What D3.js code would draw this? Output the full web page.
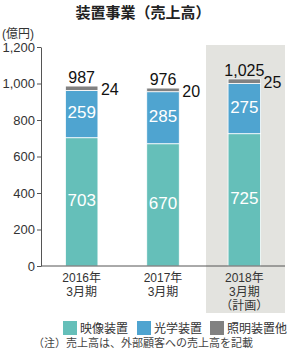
<!DOCTYPE html>
<meta charset="utf-8">
<style>
body { margin: 0; background: #fff; }
text { font-family: "Liberation Sans", Arial, "Noto Sans CJK JP", sans-serif; }
.jp { font-family: "Noto Sans CJK JP", sans-serif; }
</style>
<svg width="287" height="360"></svg>
<script src="https://d3js.org/d3.v7.min.js"></script>
<script>

// data
var years = ["2016年", "2017年", "2018年"];
var subLabels = ["3月期", "3月期", "3月期"];
var planLabel = ["", "", "（計画）"];
var seriesNames = ["映像装置", "光学装置", "照明装置他"];
var eizou = [703, 670, 725];
var kogaku = [259, 285, 275];
var shoumei = [24, 20, 25];
var totals = [987, 976, 1025];
var yTicks = [0, 200, 400, 600, 800, 1000, 1200];

var colors = ["#65bfb9", "#4fa4d0", "#818181"];

var svg = d3.select("svg");

var x = d3.scaleBand().domain(years).range([41, 285]).paddingInner(0.6).paddingOuter(0.3);
var y = d3.scaleLinear().domain([0, 1200]).range([266, 47]);

// plan year background
svg.append("rect")
  .attr("x", 206).attr("y", 45)
  .attr("width", 79).attr("height", 268)
  .attr("fill", "#e3e3df");

// title
svg.append("text").attr("class", "jp")
  .attr("x", 143).attr("y", 18)
  .attr("text-anchor", "middle")
  .attr("font-size", 15).attr("font-weight", "bold")
  .attr("fill", "#222")
  .text("装置事業（売上高）");

svg.append("text")
  .attr("x", 2).attr("y", 38)
  .attr("font-size", 12).attr("fill", "#333")
  .text("(億円)");

// stacked data
var rows = years.map(function(d, i) {
  return { year: d, v: [eizou[i], kogaku[i], shoumei[i]] };
});
var stack = d3.stack().keys([0, 1, 2]).value(function(d, k) { return d.v[k]; });
var layers = stack(rows);

var g = svg.append("g");
layers.forEach(function(layer, k) {
  g.selectAll(".s" + k).data(layer).enter().append("rect")
    .attr("x", function(d) { return x(d.data.year); })
    .attr("width", x.bandwidth())
    .attr("y", function(d) { return y(d[1]); })
    .attr("height", function(d) { return y(d[0]) - y(d[1]); })
    .attr("fill", colors[k])
    .attr("stroke", "#fff").attr("stroke-width", 0.8);
});

// labels inside bars
[0, 1].forEach(function(k) {
  g.selectAll(".l" + k).data(layers[k]).enter().append("text")
    .attr("x", function(d) { return x(d.data.year) + x.bandwidth() / 2; })
    .attr("y", function(d) { return (y(d[0]) + y(d[1])) / 2 + 4; })
    .attr("text-anchor", "middle")
    .attr("font-size", 17).attr("fill", "#fff")
    .text(function(d) { return d.data.v[k]; });
});

// totals above
g.selectAll(".tot").data(rows).enter().append("text")
  .attr("x", function(d) { return x(d.year) + x.bandwidth() / 2; })
  .attr("y", function(d, i) { return y(totals[i]) - 3; })
  .attr("text-anchor", "middle")
  .attr("font-size", 16).attr("fill", "#111")
  .text(function(d, i) { return d3.format(",")(totals[i]); });

// lighting values beside bar
g.selectAll(".sh").data(rows).enter().append("text")
  .attr("x", function(d) { return x(d.year) + x.bandwidth() + 3; })
  .attr("y", function(d, i) { return y(totals[i]) + 9; })
  .attr("font-size", 16).attr("fill", "#111")
  .text(function(d, i) { return shoumei[i]; });

// y axis
var yAxis = svg.append("g")
  .attr("transform", "translate(41,0)")
  .call(d3.axisLeft(y).tickValues(yTicks).tickSize(4).tickSizeOuter(0).tickFormat(d3.format(",")));
yAxis.select(".domain").attr("stroke", "#555");
yAxis.selectAll(".tick line").attr("stroke", "#555");
yAxis.selectAll(".tick text").attr("font-size", 13).attr("fill", "#333").attr("x", -6);

// baseline
svg.append("line")
  .attr("x1", 41).attr("x2", 285)
  .attr("y1", y(0)).attr("y2", y(0))
  .attr("stroke", "#555");

// x labels
var xl = svg.append("g").selectAll("g").data(years).enter().append("g")
  .attr("transform", function(d) { return "translate(" + (x(d) + x.bandwidth() / 2) + ",0)"; });
xl.append("text").attr("y", 282).attr("text-anchor", "middle")
  .attr("font-size", 12).attr("fill", "#333").text(function(d) { return d; });
xl.append("text").attr("y", 296).attr("text-anchor", "middle")
  .attr("font-size", 12).attr("fill", "#333").text(function(d, i) { return subLabels[i]; });
xl.append("text").attr("y", 310).attr("text-anchor", "middle")
  .attr("font-size", 12).attr("fill", "#333").text(function(d, i) { return planLabel[i]; });

// legend
var legX = [63, 137, 210];
var leg = svg.append("g").selectAll("g").data(seriesNames).enter().append("g")
  .attr("transform", function(d, i) { return "translate(" + legX[i] + ",321)"; });
leg.append("rect").attr("width", 14).attr("height", 14)
  .attr("fill", function(d, i) { return colors[i]; });
leg.append("text").attr("x", 17).attr("y", 12)
  .attr("font-size", 12).attr("fill", "#333").text(function(d) { return d; });

// note
svg.append("text")
  .attr("x", 143).attr("y", 347).attr("text-anchor", "middle")
  .attr("font-size", 11).attr("fill", "#444")
  .text("（注）売上高は、外部顧客への売上高を記載");

</script>
